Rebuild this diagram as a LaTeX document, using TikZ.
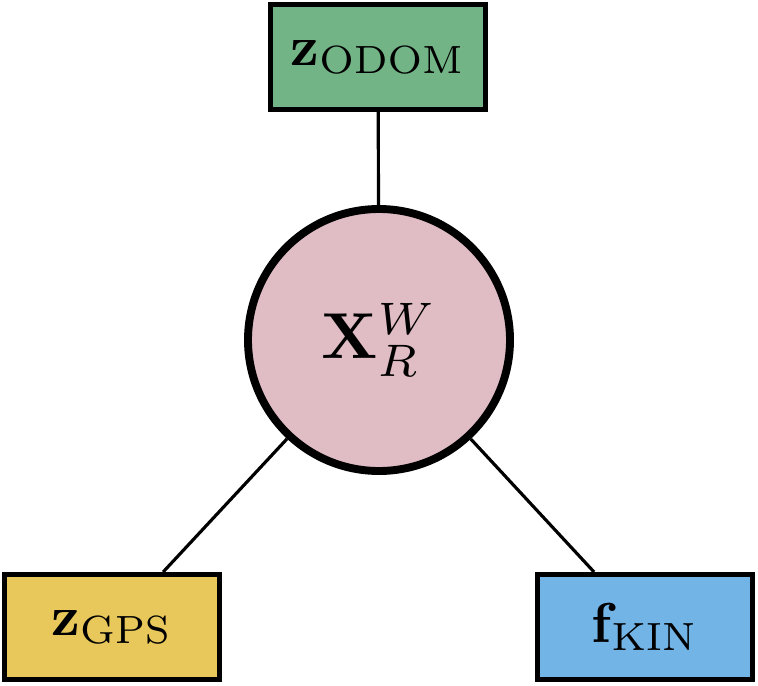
\documentclass[tikz,border=0pt]{standalone}
\usepackage{amsmath}
\definecolor{odomgreen}{RGB}{115,180,135}
\definecolor{gpsyellow}{RGB}{232,200,90}
\definecolor{kinblue}{RGB}{115,180,230}
\definecolor{statepink}{RGB}{224,188,196}
\newcommand{\boxlabel}[1]{\scalebox{3.2}{$#1$}}
\begin{document}
\begin{tikzpicture}[
    factor/.style={draw, line width=2.8pt, minimum width=4.3cm, minimum height=2.1cm},
    state/.style={draw, circle, line width=4.5pt, fill=statepink, minimum size=5.24cm},
    link/.style={line width=1.8pt}
]
    \useasboundingbox (0,0) rectangle (15.16,13.7);
    % state and factors
    \node[state] (x) at (7.58,6.9) {\scalebox{3.7}{$\mathbf{X}_R^W$}};
    \node[factor, fill=odomgreen] (odom) at (7.56,12.56) {\boxlabel{\mathbf{z}_{\mathrm{ODOM}}}};
    \node[factor, fill=gpsyellow] (gps) at (2.24,1.16) {\boxlabel{\mathbf{z}_{\mathrm{GPS}}}};
    \node[factor, fill=kinblue] (kin) at (12.9,1.16) {\boxlabel{\mathbf{f}_{\mathrm{KIN}}}};

    % connections
    \draw[link] (x) -- (odom);
    \draw[link] (x) -- (gps);
    \draw[link] (x) -- (kin);
\end{tikzpicture}
\end{document}
